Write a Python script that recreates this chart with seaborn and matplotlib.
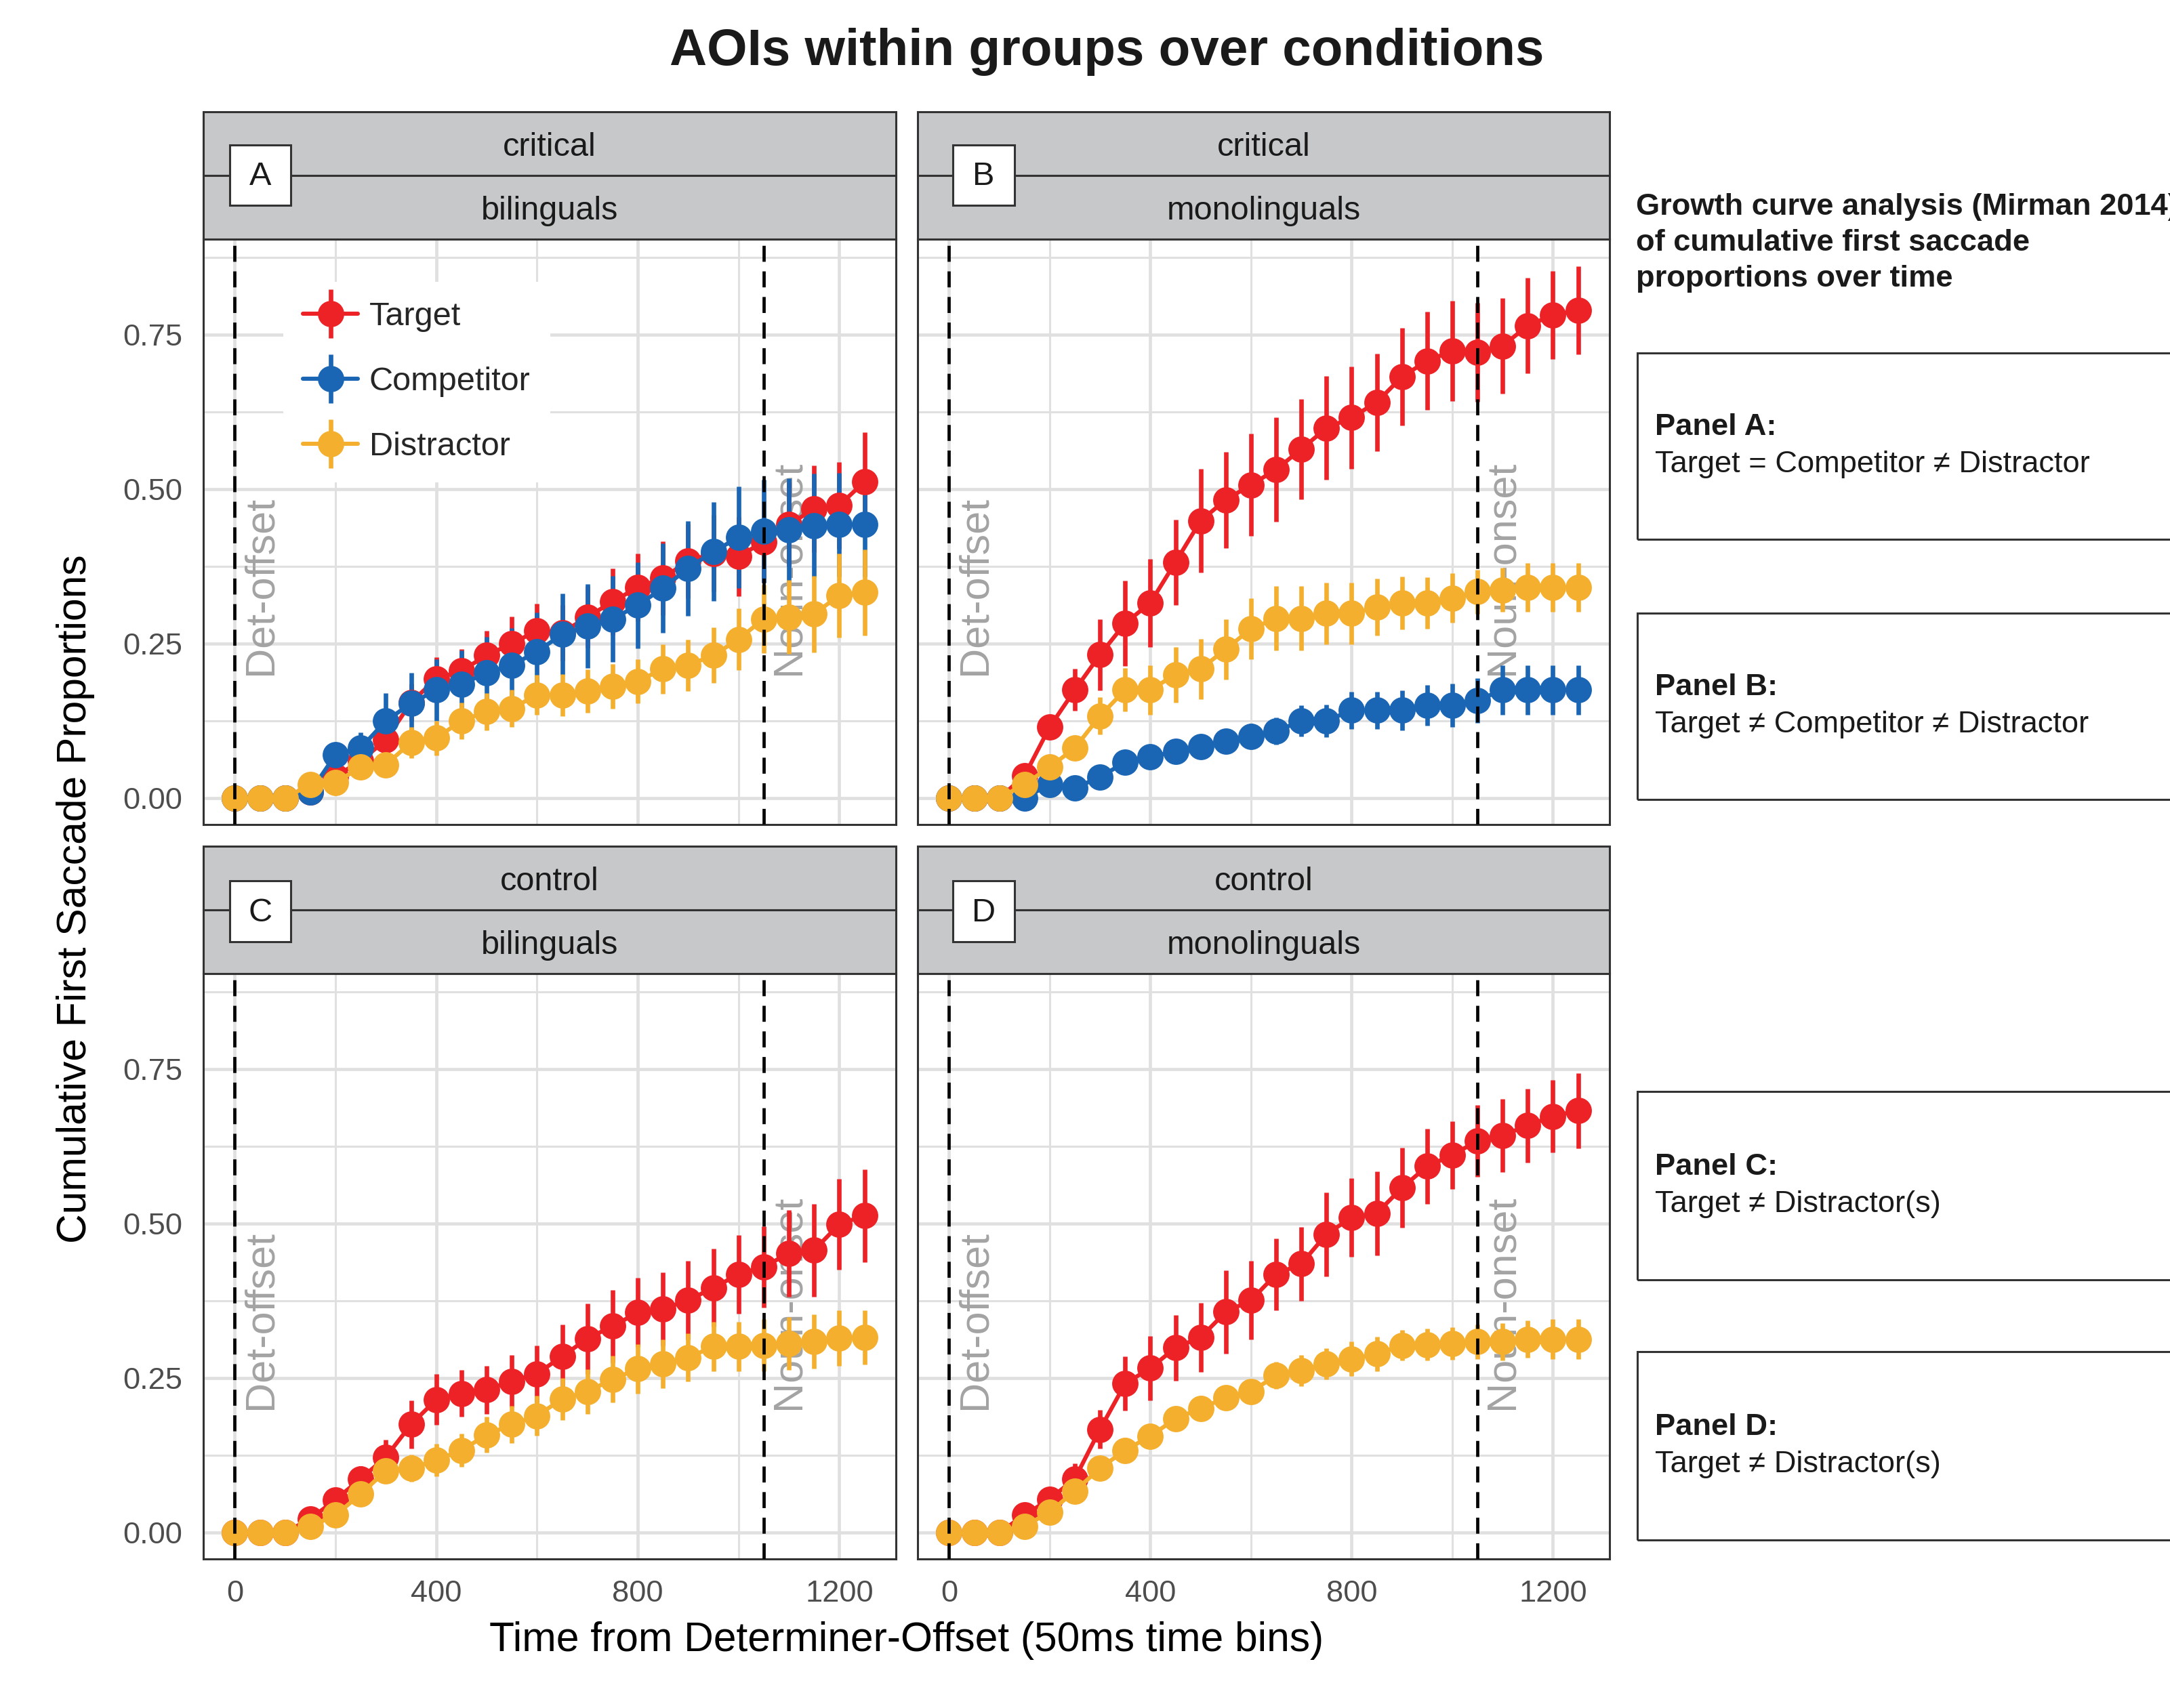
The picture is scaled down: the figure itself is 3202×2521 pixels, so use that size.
import matplotlib
matplotlib.use("Agg")
import matplotlib.pyplot as plt
from matplotlib.patches import Rectangle
from matplotlib.lines import Line2D
import numpy as np
import pandas as pd
import seaborn as sns

# ---- data ----
time_bins = [0, 50, 100, 150, 200, 250, 300, 350, 400, 450, 500, 550, 600,
             650, 700, 750, 800, 850, 900, 950, 1000, 1050, 1100, 1150, 1200, 1250]
aoi_levels = ["Target", "Competitor", "Distractor"]

# panel A: critical / bilinguals
a_target = [0, 0, 0, 0.01, 0.035, 0.06, 0.094, 0.155, 0.193, 0.206, 0.231, 0.25, 0.271,
            0.268, 0.293, 0.318, 0.341, 0.356, 0.384, 0.396, 0.391, 0.415, 0.443, 0.468, 0.474, 0.512]
a_target_ci = [0, 0, 0, 0.005, 0.01, 0.015, 0.02, 0.03, 0.035, 0.035, 0.04, 0.044, 0.044,
               0.045, 0.05, 0.054, 0.055, 0.06, 0.06, 0.062, 0.064, 0.066, 0.068, 0.07, 0.07, 0.08]
a_comp = [0, 0, 0, 0.01, 0.07, 0.081, 0.125, 0.153, 0.175, 0.184, 0.203, 0.215, 0.237,
          0.265, 0.278, 0.29, 0.312, 0.34, 0.372, 0.399, 0.422, 0.432, 0.434, 0.441, 0.443, 0.443]
a_comp_ci = [0, 0, 0, 0.01, 0.02, 0.025, 0.045, 0.05, 0.05, 0.055, 0.058, 0.06, 0.063,
             0.066, 0.068, 0.07, 0.07, 0.072, 0.077, 0.08, 0.082, 0.083, 0.084, 0.084, 0.084, 0.084]
a_dist = [0, 0, 0, 0.022, 0.025, 0.05, 0.054, 0.09, 0.097, 0.125, 0.14, 0.145, 0.167,
          0.167, 0.173, 0.181, 0.189, 0.209, 0.215, 0.231, 0.257, 0.29, 0.293, 0.298, 0.328, 0.333]
a_dist_ci = [0, 0, 0, 0.005, 0.01, 0.015, 0.02, 0.025, 0.028, 0.03, 0.03, 0.03, 0.032,
             0.034, 0.035, 0.036, 0.036, 0.04, 0.042, 0.045, 0.05, 0.055, 0.06, 0.062, 0.068, 0.07]

# panel B: critical / monolinguals
b_target = [0, 0, 0, 0.036, 0.115, 0.175, 0.232, 0.283, 0.316, 0.382, 0.449, 0.483, 0.507,
            0.532, 0.565, 0.599, 0.616, 0.641, 0.682, 0.708, 0.724, 0.722, 0.732, 0.765, 0.782, 0.79]
b_target_ci = [0, 0, 0, 0.015, 0.02, 0.034, 0.058, 0.069, 0.071, 0.069, 0.084, 0.078, 0.083,
               0.084, 0.081, 0.084, 0.083, 0.079, 0.079, 0.08, 0.081, 0.08, 0.077, 0.077, 0.071, 0.071]
b_comp = [0, 0, 0, 0.0, 0.022, 0.016, 0.034, 0.058, 0.067, 0.075, 0.083, 0.092, 0.1,
          0.108, 0.125, 0.125, 0.142, 0.142, 0.142, 0.15, 0.15, 0.158, 0.175, 0.175, 0.175, 0.175]
b_comp_ci = [0, 0, 0, 0.005, 0.008, 0.01, 0.012, 0.014, 0.015, 0.016, 0.017, 0.018, 0.02,
             0.022, 0.025, 0.026, 0.03, 0.03, 0.032, 0.033, 0.035, 0.036, 0.04, 0.04, 0.04, 0.04]
b_dist = [0, 0, 0, 0.022, 0.05, 0.081, 0.133, 0.175, 0.175, 0.2, 0.209, 0.241, 0.274,
          0.291, 0.291, 0.299, 0.299, 0.309, 0.316, 0.316, 0.324, 0.334, 0.337, 0.341, 0.341, 0.341]
b_dist_ci = [0, 0, 0, 0.008, 0.012, 0.02, 0.03, 0.035, 0.04, 0.045, 0.049, 0.049, 0.049,
             0.052, 0.052, 0.05, 0.05, 0.046, 0.043, 0.042, 0.04, 0.036, 0.036, 0.04, 0.04, 0.04]

# panel C: control / bilinguals
c_target = [0, 0, 0, 0.022, 0.053, 0.087, 0.122, 0.175, 0.215, 0.225, 0.231, 0.245, 0.257,
            0.285, 0.314, 0.334, 0.356, 0.362, 0.376, 0.396, 0.418, 0.43, 0.452, 0.457, 0.499, 0.513]
c_target_ci = [0, 0, 0, 0.008, 0.012, 0.02, 0.028, 0.039, 0.041, 0.038, 0.039, 0.042, 0.046,
               0.052, 0.057, 0.059, 0.056, 0.059, 0.064, 0.063, 0.064, 0.066, 0.07, 0.075, 0.073, 0.075]
c_dist = [0, 0, 0, 0.01, 0.028, 0.062, 0.1, 0.104, 0.117, 0.133, 0.158, 0.175, 0.189,
          0.216, 0.228, 0.248, 0.265, 0.273, 0.283, 0.301, 0.301, 0.303, 0.306, 0.309, 0.315, 0.316]
c_dist_ci = [0, 0, 0, 0.005, 0.01, 0.015, 0.02, 0.022, 0.026, 0.027, 0.029, 0.03, 0.032,
             0.034, 0.036, 0.038, 0.04, 0.04, 0.039, 0.04, 0.04, 0.042, 0.043, 0.044, 0.045, 0.044]

# panel D: control / monolinguals
d_target = [0, 0, 0, 0.028, 0.054, 0.087, 0.167, 0.241, 0.266, 0.299, 0.316, 0.357, 0.376,
            0.418, 0.435, 0.483, 0.51, 0.517, 0.558, 0.593, 0.611, 0.634, 0.643, 0.659, 0.674, 0.683]
d_target_ci = [0, 0, 0, 0.01, 0.015, 0.025, 0.031, 0.044, 0.052, 0.053, 0.056, 0.067, 0.064,
               0.058, 0.06, 0.068, 0.064, 0.068, 0.065, 0.061, 0.055, 0.058, 0.059, 0.06, 0.059, 0.061]
d_dist = [0, 0, 0, 0.01, 0.033, 0.067, 0.104, 0.133, 0.156, 0.184, 0.201, 0.218, 0.228,
          0.254, 0.262, 0.273, 0.281, 0.289, 0.303, 0.304, 0.306, 0.309, 0.309, 0.313, 0.313, 0.313]
d_dist_ci = [0, 0, 0, 0.005, 0.01, 0.015, 0.02, 0.02, 0.02, 0.02, 0.02, 0.02, 0.02,
             0.022, 0.025, 0.025, 0.028, 0.028, 0.025, 0.026, 0.026, 0.028, 0.03, 0.03, 0.032, 0.032]

panel_letters = ["A", "B", "C", "D"]
conditions = ["critical", "critical", "control", "control"]
groups = ["bilinguals", "monolinguals", "bilinguals", "monolinguals"]
panel_notes = ["Target = Competitor \u2260 Distractor",
               "Target \u2260 Competitor \u2260 Distractor",
               "Target \u2260 Distractor(s)",
               "Target \u2260 Distractor(s)"]
header_lines = ["Growth curve analysis (Mirman 2014)",
                "of cumulative first saccade",
                "proportions over time"]

panel_series = [
    {"Target": (a_target, a_target_ci), "Competitor": (a_comp, a_comp_ci), "Distractor": (a_dist, a_dist_ci)},
    {"Target": (b_target, b_target_ci), "Competitor": (b_comp, b_comp_ci), "Distractor": (b_dist, b_dist_ci)},
    {"Target": (c_target, c_target_ci), "Distractor": (c_dist, c_dist_ci)},
    {"Target": (d_target, d_target_ci), "Distractor": (d_dist, d_dist_ci)},
]

palette = {"Target": "#EC2227", "Competitor": "#1B66B4", "Distractor": "#F4AF2F"}

# ---- style ----
sns.set_theme(style="white")
plt.rcParams['font.family'] = ['Liberation Sans', 'DejaVu Sans']

W, H = 3202, 2521
fig = plt.figure(figsize=(W / 200, H / 200), dpi=200)


def fx(px):
    return px / W


def fy(py):
    return 1 - py / H


# panel boxes in pixels: (left, right, top, bottom, strip_top, label box x0, x1, y0, y1)
panel_px = [
    (300, 1322, 353, 1217, 165, 339, 429, 214, 303),
    (1354, 2375, 353, 1217, 165, 1406, 1497, 214, 303),
    (300, 1322, 1437, 2301, 1249, 339, 429, 1300, 1390),
    (1354, 2375, 1437, 2301, 1249, 1406, 1497, 1300, 1390),
]

edge = "#333333"
grid_col = "#E0E0E0"
axes = []
for i, (l, r, t, b, st, bx0, bx1, by0, by1) in enumerate(panel_px):
    ax = fig.add_axes([fx(l), fy(b), (r - l) / W, (b - t) / H])
    axes.append(ax)

    rows = []
    for aoi, (vals, ci) in panel_series[i].items():
        for tb, v, e in zip(time_bins, vals, ci):
            rows.append({"time": tb, "aoi": aoi, "prop": v, "lo": v - e, "hi": v + e})
    df = pd.DataFrame(rows)
    hue_order = [a for a in aoi_levels if a in panel_series[i]]

    for aoi in hue_order:
        sub = df[df.aoi == aoi]
        ax.vlines(sub.time, sub.lo, sub.hi, color=palette[aoi], lw=2.4, zorder=2)
        sns.lineplot(data=sub, x="time", y="prop", color=palette[aoi], marker="o",
                     markersize=14, markeredgewidth=0, linewidth=2.2, errorbar=None,
                     ax=ax, zorder=2.5)

    # onset markers
    for xv in [0, 1050]:
        ax.axvline(xv, color="black", lw=1.7, ls=(0, (5, 3)), zorder=4)
    ax.text(52, 0.2, "Det-offset", rotation=90, rotation_mode="anchor", ha="left",
            va="center", color="#A3A3A3", fontsize=22, zorder=1.5)
    ax.text(1100, 0.2, "Noun-onset", rotation=90, rotation_mode="anchor", ha="left",
            va="center", color="#A3A3A3", fontsize=22, zorder=1.5)

    ax.set_xlim(-62.5, 1312.5)
    ax.set_ylim(-0.043, 0.905)
    ax.set_xticks([0, 400, 800, 1200])
    ax.set_xticks([200, 600, 1000], minor=True)
    ax.set_yticks([0, 0.25, 0.5, 0.75])
    ax.set_yticks([0.125, 0.375, 0.625, 0.875], minor=True)
    ax.set_yticklabels(["0.00", "0.25", "0.50", "0.75"])
    ax.set_axisbelow(True)
    ax.grid(which="major", color=grid_col, lw=1.7)
    ax.grid(which="minor", color=grid_col, lw=1.1)
    ax.tick_params(which="minor", length=0)
    ax.tick_params(which="major", length=6, width=1.6, color=edge, labelsize=16.3,
                   labelcolor="#4D4D4D", pad=5)
    if i % 2 == 1:
        ax.tick_params(axis="y", length=0, labelleft=False)
    if i < 2:
        ax.tick_params(axis="x", length=0, labelbottom=False)
    ax.set_xlabel("")
    ax.set_ylabel("")
    for s in ax.spines.values():
        s.set_color(edge)
        s.set_linewidth(1.1)

    # two-level strips
    for k, (lab, y0) in enumerate([(conditions[i], st), (groups[i], st + 94)]):
        fig.add_artist(Rectangle((fx(l), fy(y0 + 94)), (r - l) / W, 94 / H,
                                 transform=fig.transFigure, fc="#C7C8CA", ec=edge, lw=1.1))
        fig.text(fx((l + r) / 2), fy(y0 + 52), lab, ha="center", va="center",
                 fontsize=17.5, color="#1A1A1A")
    # panel letter
    fig.add_artist(Rectangle((fx(bx0), fy(by1)), (bx1 - bx0) / W, (by1 - by0) / H,
                             transform=fig.transFigure, fc="white", ec=edge, lw=1.1))
    fig.text(fx((bx0 + bx1) / 2), fy((by0 + by1) / 2 + 2), panel_letters[i], ha="center",
             va="center", fontsize=17.5, color="#1A1A1A")

# legend in panel A
handles = []
for aoi in aoi_levels:
    h_line = Line2D([], [], color=palette[aoi], marker="o", markersize=14,
                    markeredgewidth=0, lw=2.2)
    h_bar = Line2D([], [], color=palette[aoi], marker="|", markersize=26,
                   markeredgewidth=2.4, lw=0)
    handles.append((h_line, h_bar))
leg = axes[0].legend(handles, aoi_levels, loc="upper left", bbox_to_anchor=(0.092, 0.955),
                     fontsize=17.5, frameon=True, framealpha=1, facecolor="white",
                     edgecolor="none", handlelength=1.65, handletextpad=0.35,
                     labelspacing=1.05, borderpad=0.6, fancybox=False)
leg.set_zorder(5)

# titles
fig.text(fx(1633), fy(77), "AOIs within groups over conditions", ha="center", va="center",
         fontsize=27.5, fontweight="bold", color="#1A1A1A")
fig.text(fx(1338), fy(2422), "Time from Determiner-Offset (50ms time bins)", ha="center",
         va="center", fontsize=21.8, color="black")
fig.text(fx(112), fy(1327), "Cumulative First Saccade Proportions", rotation=90,
         ha="center", va="center", fontsize=21.8, color="black")

# right-hand notes
for k, line in enumerate(header_lines):
    fig.text(fx(2414), fy(306 + 53 * k), line, ha="left", va="center", fontsize=16.3,
             fontweight="bold", color="#1A1A1A")
note_boxes = [(521, 796), (905, 1180), (1611, 1889), (1995, 2273)]
for k, (y0, y1) in enumerate(note_boxes):
    fig.add_artist(Rectangle((fx(2416), fy(y1)), 1000 / W, (y1 - y0) / H,
                             transform=fig.transFigure, fc="none", ec=edge, lw=1.1))
    yc = (y0 + y1) / 2
    fig.text(fx(2442), fy(yc - 28), "Panel %s:" % panel_letters[k], ha="left", va="center",
             fontsize=16.3, fontweight="bold", color="#1A1A1A")
    fig.text(fx(2442), fy(yc + 27), panel_notes[k], ha="left", va="center",
             fontsize=16.3, color="#1A1A1A")

fig.savefig("out.png", dpi=200, facecolor="white")
